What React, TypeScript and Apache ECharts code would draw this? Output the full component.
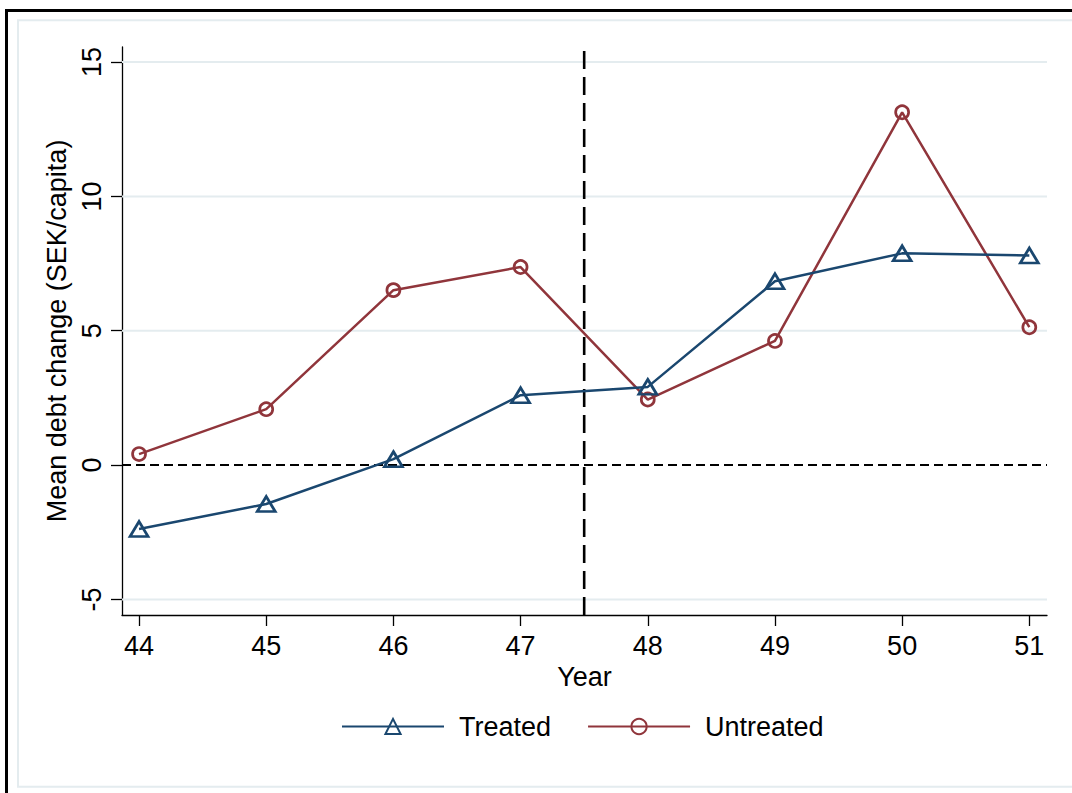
import React, { useEffect, useRef } from "react";
import * as echarts from "echarts";

const years = [44, 45, 46, 47, 48, 49, 50, 51];
const treated = [-2.38, -1.45, 0.22, 2.6, 2.91, 6.84, 7.88, 7.8];
const untreated = [0.41, 2.08, 6.51, 7.37, 2.44, 4.62, 13.13, 5.13];
const yTicks = [-5, 0, 5, 10, 15];
const gridValues = [-5, 5, 10, 15];
const xRange = [43.866, 51.139];
const yRange = [-5.58, 15.56];
const treatmentLine = 47.5;
const seriesNames = ["Treated", "Untreated"];
const yTitle = "Mean debt change (SEK/capita)";
const xTitle = "Year";

const NAVY = "#1a476f";
const MAROON = "#90353b";
const GRID = "#e4ecef";
const FONT = "Liberation Sans, Arial, Helvetica, sans-serif";

export default function App() {
  const ref = useRef<HTMLDivElement>(null);
  useEffect(() => {
    if (!ref.current) return;
    const chart = echarts.init(ref.current, null, { renderer: "svg" });
    const gridSeries = gridValues.map((v) => ({
      type: "line",
      silent: true,
      z: 1,
      symbol: "none",
      data: [
        [xRange[0], v],
        [xRange[1], v],
      ],
      lineStyle: { color: GRID, width: 2 },
    }));
    const option = {
      animation: false,
      backgroundColor: "#fff",
      textStyle: { fontFamily: FONT, color: "#000" },
      graphic: [
        {
          type: "rect",
          z: -10,
          shape: { x: 18, y: 20.3, width: 1200, height: 766.5 },
          style: { fill: "none", stroke: GRID, lineWidth: 2 },
        },
        {
          type: "rect",
          z: -10,
          shape: { x: 6.5, y: 10.5, width: 1200, height: 1000 },
          style: { fill: "none", stroke: "#000", lineWidth: 3 },
        },
      ],
      grid: { left: 122, top: 47, right: 25, bottom: 178, containLabel: false },
      xAxis: {
        type: "value",
        min: xRange[0],
        max: xRange[1],
        name: xTitle,
        nameLocation: "middle",
        nameGap: 40,
        nameTextStyle: { fontSize: 27, color: "#000", fontFamily: FONT },
        axisLine: { show: true, onZero: false, lineStyle: { color: "#000", width: 1.3 } },
        axisTick: { show: true, length: 11, customValues: years, lineStyle: { color: "#000", width: 1.3 } },
        axisLabel: { customValues: years, fontSize: 27, color: "#000", fontFamily: FONT, margin: 17 },
        splitLine: { show: false },
      },
      yAxis: {
        type: "value",
        min: yRange[0],
        max: yRange[1],
        name: yTitle,
        nameLocation: "middle",
        nameGap: 40,
        nameTextStyle: { fontSize: 27, color: "#000", fontFamily: FONT },
        axisLine: { show: true, onZero: false, lineStyle: { color: "#000", width: 1.3 } },
        axisTick: { show: true, length: 11, customValues: yTicks, lineStyle: { color: "#000", width: 1.3 } },
        axisLabel: { customValues: yTicks, rotate: 90, fontSize: 27, color: "#000", fontFamily: FONT, margin: 17 },
        splitLine: { show: false },
      },
      legend: {
        data: seriesNames,
        left: 336,
        top: 708,
        itemWidth: 102,
        itemHeight: 19,
        itemGap: 36,
        selectedMode: false,
        textStyle: { fontSize: 27, color: "#000", fontFamily: FONT, padding: [0, 0, 0, 10] },
      },
      series: [
        ...gridSeries,
        {
          type: "line",
          silent: true,
          z: 2,
          symbol: "none",
          data: [
            [xRange[0], 0],
            [xRange[1], 0],
          ],
          lineStyle: { color: "#000", width: 2, type: [9, 5] },
        },
        {
          type: "line",
          silent: true,
          z: 2,
          symbol: "none",
          data: [
            [treatmentLine, yRange[0]],
            [treatmentLine, yRange[1]],
          ],
          lineStyle: { color: "#000", width: 2.6, type: [18, 8] },
        },
        {
          name: seriesNames[0],
          type: "line",
          z: 4,
          data: years.map((y, i) => [y, treated[i]]),
          symbol: "triangle",
          symbolSize: [18, 15],
          lineStyle: { color: NAVY, width: 2.5 },
          itemStyle: { color: "transparent", borderColor: NAVY, borderWidth: 2.7 },
        },
        {
          name: seriesNames[1],
          type: "line",
          z: 3,
          data: years.map((y, i) => [y, untreated[i]]),
          symbol: "circle",
          symbolSize: 13,
          lineStyle: { color: MAROON, width: 2.5 },
          itemStyle: { color: "transparent", borderColor: MAROON, borderWidth: 2.7 },
        },
      ],
    };
    chart.setOption(option as any);
    return () => chart.dispose();
  }, []);
  return (
    <div
      ref={ref}
      style={{ position: "absolute", left: 0, top: 0, width: 1072, height: 793, background: "#fff" }}
    />
  );
}
